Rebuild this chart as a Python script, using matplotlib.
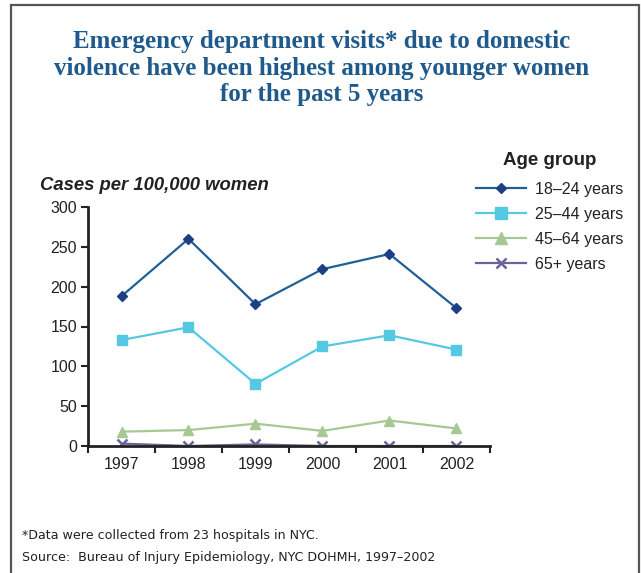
import matplotlib
matplotlib.use("Agg")
import matplotlib.pyplot as plt
from matplotlib.patches import Rectangle

years = ["1997", "1998", "1999", "2000", "2001", "2002"]
age_18_24 = [188, 260, 178, 222, 241, 173]
age_25_44 = [133, 149, 78, 125, 139, 121]
age_45_64 = [18, 20, 28, 19, 32, 22]
age_65_plus = [3, 0, 2, 0, 0, 0]
series_labels = ["18\u201324 years", "25\u201344 years", "45\u201364 years", "65+ years"]
yticks = [0, 50, 100, 150, 200, 250, 300]

plt.rcParams["font.family"] = ["Liberation Sans", "DejaVu Sans"]

W, H = 641, 573
fig = plt.figure(figsize=(W / 100, H / 100), dpi=100)

# border frame
fig.patches.append(Rectangle((11 / W, -0.05), (639 - 11) / W, (573 - 5) / H + 0.05,
                             transform=fig.transFigure, fill=False,
                             edgecolor="#555555", linewidth=1.6))

ax = fig.add_axes([88 / W, 1 - 446 / H, (490 - 88) / W, (446 - 207) / H])
x = [i + 0.5 for i in range(len(years))]

l1, = ax.plot(x, age_18_24, color="#1f6096", lw=1.6, marker="D", ms=5,
              mfc="#1d3f86", mec="#1d3f86", label=series_labels[0])
l2, = ax.plot(x, age_25_44, color="#55c8e2", lw=1.6, marker="s", ms=7.5,
              mfc="#55c8e2", mec="#55c8e2", label=series_labels[1])
l3, = ax.plot(x, age_45_64, color="#a6c993", lw=1.6, marker="^", ms=7.5,
              mfc="#a6c993", mec="#a6c993", label=series_labels[2])
l4, = ax.plot(x, age_65_plus, color="#6b6399", lw=1.6, marker="x", ms=7,
              mew=1.8, label=series_labels[3])

ax.set_xlim(0, len(years))
ax.set_ylim(0, 300)
ax.set_yticks(yticks)
ax.set_yticklabels([str(v) for v in yticks])
ax.set_xticks(range(len(years) + 1))
ax.set_xticklabels([])
ax.set_xticks(x, minor=True)
ax.set_xticklabels(years, minor=True)
ax.tick_params(axis="x", which="minor", length=0, pad=8, labelsize=11.5, colors="#222222")
ax.tick_params(axis="x", which="major", length=5, width=1.5, direction="out", color="#222222")
ax.tick_params(axis="y", length=5, width=1.5, direction="out", labelsize=11.5, colors="#222222", pad=3)
for s in ["top", "right"]:
    ax.spines[s].set_visible(False)
for s in ["left", "bottom"]:
    ax.spines[s].set_linewidth(2)
    ax.spines[s].set_color("#222222")

fig.text(40 / W, 1 - 185 / H, "Cases per 100,000 women", fontsize=13.3,
         fontweight="bold", fontstyle="italic", color="#222222", va="center", ha="left")

fig.text(322 / W, 1 - 68 / H,
         "Emergency department visits* due to domestic\nviolence have been highest among younger women\nfor the past 5 years",
         fontsize=18, fontweight="bold", family="Liberation Serif", color="#1f5a8c",
         ha="center", va="center", linespacing=1.2)

leg = fig.legend(handles=[l1, l2, l3, l4], labels=series_labels,
                 loc="upper left", bbox_to_anchor=(462 / W, 1 - 138 / H),
                 title="Age group", frameon=False, fontsize=11.5,
                 handlelength=3.1, handletextpad=0.6, labelspacing=0.62,
                 markerscale=1.1)
leg._legend_box.sep = 9
leg.get_title().set_fontweight("bold")
leg.get_title().set_fontsize(13.5)
leg.get_title().set_color("#222222")
for t in leg.get_texts():
    t.set_color("#222222")

fig.text(22 / W, 1 - 536 / H, "*Data were collected from 23 hospitals in NYC.",
         fontsize=9.1, family="DejaVu Sans", color="#222222", va="center", ha="left")
fig.text(22 / W, 1 - 557 / H, "Source:  Bureau of Injury Epidemiology, NYC DOHMH, 1997\u20132002",
         fontsize=9.1, family="DejaVu Sans", color="#222222", va="center", ha="left")

fig.savefig("out.png", dpi=100)
